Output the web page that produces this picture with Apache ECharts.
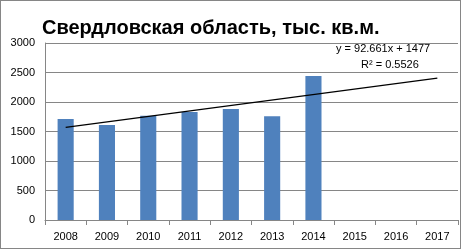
<!DOCTYPE html>
<html><head><meta charset="utf-8">
<script src="https://cdn.jsdelivr.net/npm/echarts@6/dist/echarts.min.js"></script>
<style>html,body{margin:0;padding:0;background:#fff}#c{width:461px;height:249px;box-sizing:border-box;border:1px solid #868686}</style>
</head><body><div id="c"></div>
<script>
const categories = ['2008','2009','2010','2011','2012','2013','2014','2015','2016','2017'];
const values = [1710, 1610, 1765, 1830, 1880, 1760, 2440, null, null, null];
const trend = [1570, null, null, null, null, null, null, null, null, 2404];
const yTicks = [0, 500, 1000, 1500, 2000, 2500, 3000];
const titleText = 'Свердловская область, тыс. кв.м.';
const eqText = 'y = 92.661x + 1477';
const r2Text = 'R² = 0.5526';

const chart = echarts.init(document.getElementById('c'));
chart.setOption({
  animation: false,
  title: {text: titleText, left: 36, top: 12,
    textStyle: {fontFamily: 'Liberation Sans', fontWeight: 'bold', fontSize: 20, color: '#000'}},
  graphic: [
    {type: 'text', left: 335, top: 42, style: {text: eqText, font: '11px "Liberation Sans"', fill: '#000'}},
    {type: 'text', left: 360, top: 58, style: {text: r2Text, font: '11px "Liberation Sans"', fill: '#000'}}
  ],
  grid: {left: 44, right: 2, top: 42, bottom: 28},
  xAxis: {type: 'category', data: categories, boundaryGap: true,
    axisLine: {lineStyle: {color: '#868686'}},
    axisTick: {show: true, length: 5, lineStyle: {color: '#868686'}},
    axisLabel: {color: '#000', fontFamily: 'Liberation Sans', fontSize: 11, margin: 11}},
  yAxis: {type: 'value', min: 0, max: 3000, interval: 500,
    axisLine: {show: true, lineStyle: {color: '#868686'}},
    axisTick: {show: false},
    splitLine: {lineStyle: {color: '#868686'}},
    axisLabel: {color: '#000', fontFamily: 'Liberation Sans', fontSize: 11, margin: 10,
      customValues: yTicks, formatter: v => String(v)}},
  series: [
    {type: 'bar', data: values, barWidth: '39%', itemStyle: {color: '#4f81bd'}},
    {type: 'line', data: trend, connectNulls: true, symbol: 'none',
      lineStyle: {color: '#000', width: 1.2}}
  ]
});
</script></body></html>
